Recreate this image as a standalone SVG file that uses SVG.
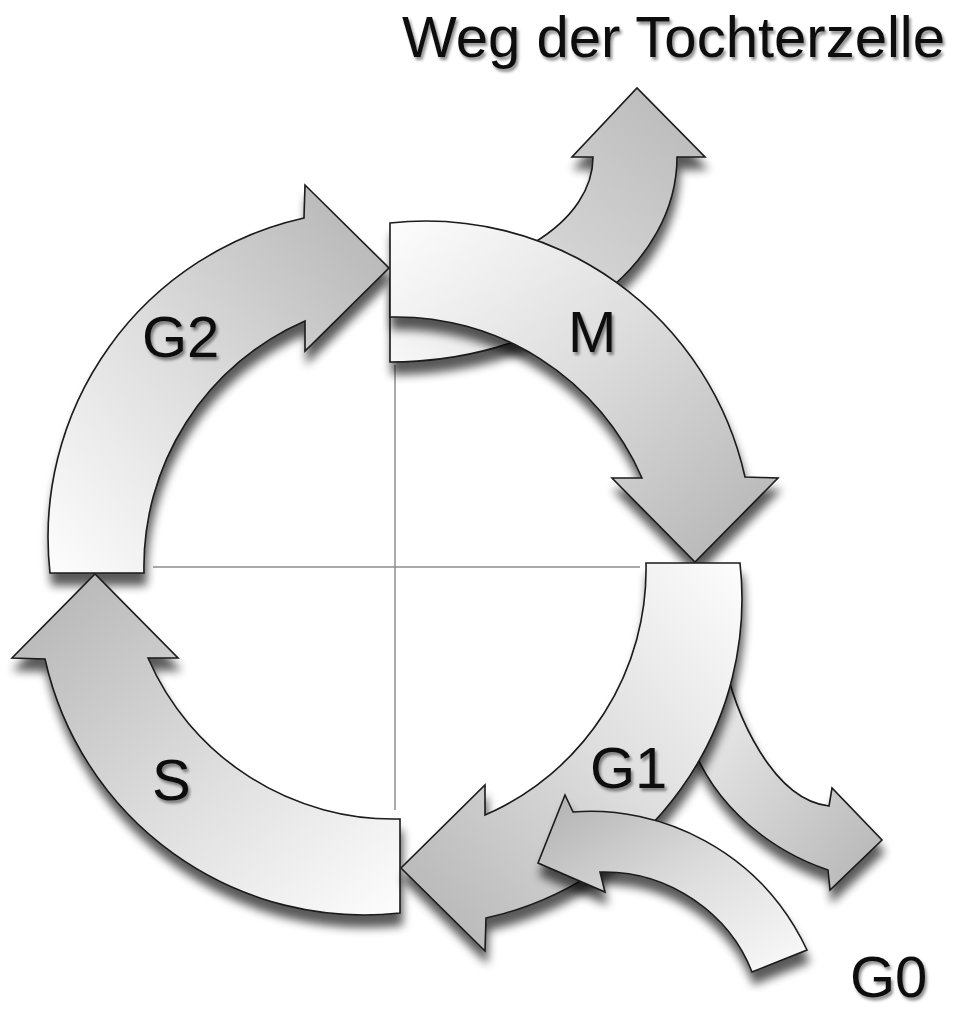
<svg xmlns="http://www.w3.org/2000/svg" width="954" height="1009" viewBox="0 0 954 1009">
<defs>
<style>
.arrow{stroke:#1a1a1a;stroke-width:1.6;stroke-linejoin:miter}
.lbl{font-family:"Liberation Sans",Arial,sans-serif;font-size:58px;fill:#111}
.axis{stroke:#8c8c8c;stroke-width:1.5;fill:none}
</style>
<linearGradient id="gMain" x1="0" y1="0" x2="1" y2="1">
<stop offset="0" stop-color="#fdfdfd"/>
<stop offset="0.45" stop-color="#dedede"/>
<stop offset="1" stop-color="#b2b2b2"/>
</linearGradient>
<linearGradient id="gDaughter" x1="0" y1="1" x2="1" y2="0">
<stop offset="0" stop-color="#f8f8f8"/>
<stop offset="0.5" stop-color="#d2d2d2"/>
<stop offset="1" stop-color="#b8b8b8"/>
</linearGradient>
<linearGradient id="gExit" x1="0" y1="0" x2="1" y2="1">
<stop offset="0" stop-color="#f4f4f4"/>
<stop offset="1" stop-color="#b4b4b4"/>
</linearGradient>
<linearGradient id="gG0" x1="1" y1="1" x2="0" y2="0">
<stop offset="0" stop-color="#fbfbfb"/>
<stop offset="0.5" stop-color="#dcdcdc"/>
<stop offset="1" stop-color="#b0b0b0"/>
</linearGradient>
<filter id="sh" x="-15%" y="-15%" width="140%" height="140%">
<feGaussianBlur in="SourceAlpha" stdDeviation="5"/>
<feOffset dx="2" dy="12"/>
<feComponentTransfer><feFuncA type="linear" slope="0.65"/></feComponentTransfer>
<feMerge><feMergeNode/><feMergeNode in="SourceGraphic"/></feMerge>
</filter>
<filter id="ts" x="-20%" y="-20%" width="150%" height="150%">
<feGaussianBlur in="SourceAlpha" stdDeviation="1.5"/>
<feOffset dx="2" dy="3"/>
<feComponentTransfer><feFuncA type="linear" slope="0.45"/></feComponentTransfer>
<feMerge><feMergeNode/><feMergeNode in="SourceGraphic"/></feMerge>
</filter>
<path id="phaseArrow" d="M -5,-345 A 327 327 0 0 1 350,-91 L 383,-90 L 300,-6 L 217,-90 L 247,-90 A 268 268 0 0 0 -5,-251 Z"/>
</defs>

<g id="connectors">
<line class="axis" x1="153" y1="567" x2="640" y2="567"/>
<line class="axis" x1="395" y1="365" x2="395" y2="810"/>
</g>

<g id="node-G2">
<g filter="url(#sh)"><use href="#phaseArrow" class="arrow" fill="url(#gMain)" transform="translate(395,568) rotate(270)"/></g>
<text class="lbl" x="142" y="357" filter="url(#ts)">G2</text>
</g>

<g id="node-S">
<g filter="url(#sh)"><use href="#phaseArrow" class="arrow" fill="url(#gMain)" transform="translate(395,568) rotate(180)"/></g>
<text class="lbl" x="152" y="800" filter="url(#ts)">S</text>
</g>

<g id="node-daughter">
<g filter="url(#sh)"><path class="arrow" fill="url(#gDaughter)" d="M 390,362 A 287 205 0 0 0 677,157 L 705,157 L 637,88 L 572,157 L 593,157 A 203 121.5 0 0 1 390,278.5 Z"/></g>
<text class="lbl" x="402" y="57" textLength="543" lengthAdjust="spacingAndGlyphs" filter="url(#ts)">Weg der Tochterzelle</text>
</g>

<g id="node-M">
<g filter="url(#sh)"><use href="#phaseArrow" class="arrow" fill="url(#gMain)" transform="translate(395,568)"/></g>
<text class="lbl" x="568" y="352" filter="url(#ts)">M</text>
</g>

<g id="node-exit">
<g filter="url(#sh)"><path class="arrow" fill="url(#gExit)" d="M 690,740 L 722,650 C 735,720 775,800 829,806 L 832,788 L 882,840 L 830,890 L 828,870 C 775,852 715,810 690,740 Z"/></g>
</g>

<g id="node-G1">
<g filter="url(#sh)"><use href="#phaseArrow" class="arrow" fill="url(#gMain)" transform="translate(395,568) rotate(90)"/></g>
<text class="lbl" x="590" y="788" filter="url(#ts)">G1</text>
</g>

<g id="node-G0">
<g filter="url(#sh)"><path class="arrow" fill="url(#gG0)" d="M 807,950 C 760,850 660,805 573,812 L 565,795 L 538,863 L 605,892 L 600,872 C 670,870 730,915 752,972 Z"/></g>
<text class="lbl" x="850" y="997" filter="url(#ts)">G0</text>
</g>
</svg>
